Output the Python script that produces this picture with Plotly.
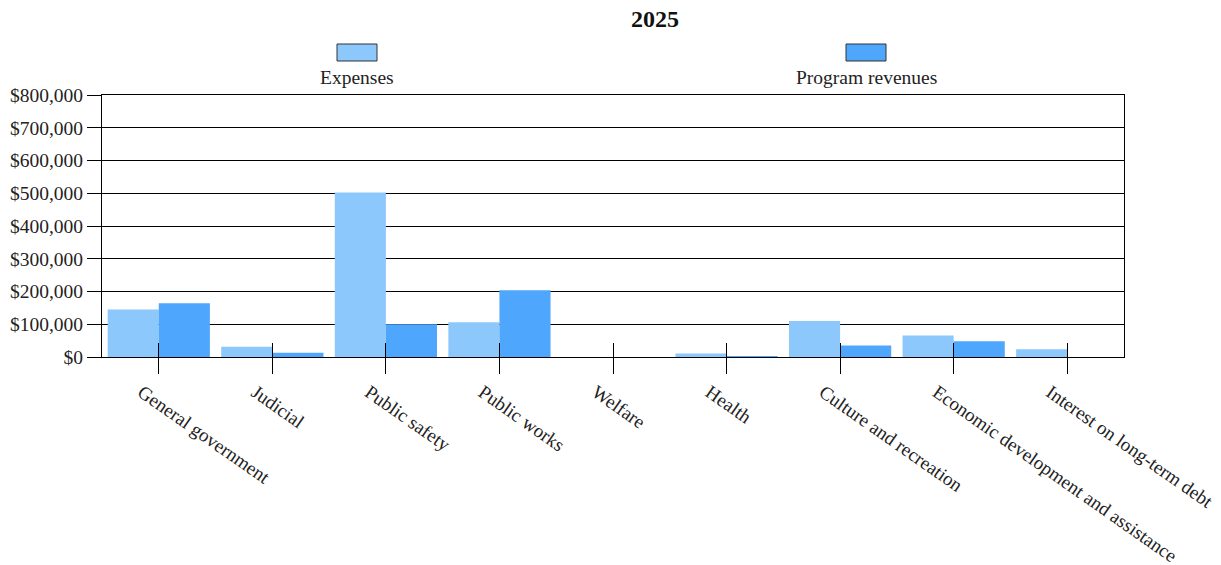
import plotly.graph_objects as go

categories = ["General government", "Judicial", "Public safety", "Public works", "Welfare",
              "Health", "Culture and recreation", "Economic development and assistance",
              "Interest on long-term debt"]
expenses = [145000, 31000, 502000, 106000, 0, 11000, 110000, 66000, 24000]
program_revenues = [164000, 13000, 100000, 204000, 0, 1000, 35000, 48000, 0]
series_names = ["Expenses", "Program revenues"]
series_colors = ["#8dc8fc", "#4ea6fd"]
y_ticks = [0, 100000, 200000, 300000, 400000, 500000, 600000, 700000, 800000]
y_tick_labels = ["$" + format(v, ",") for v in y_ticks]
title_text = "2025"

FONT = "Liberation Serif, Times New Roman, serif"

fig = go.Figure()
fig.add_trace(go.Bar(x=categories, y=expenses, name=series_names[0],
                     marker=dict(color=series_colors[0], line=dict(width=0)), showlegend=False))
fig.add_trace(go.Bar(x=categories, y=program_revenues, name=series_names[1],
                     marker=dict(color=series_colors[1], line=dict(width=0)), showlegend=False))
# invisible trace to drive the overlay axis (inside ticks)
fig.add_trace(go.Scatter(x=categories, y=[0] * len(categories), xaxis="x2", mode="markers",
                         marker=dict(opacity=0), showlegend=False, hoverinfo="skip"))

fig.update_layout(
    width=1221, height=565,
    margin=dict(l=102, r=97, t=95, b=208, autoexpand=False),
    paper_bgcolor="white", plot_bgcolor="white",
    barmode="group", bargap=0.1, bargroupgap=0,
    font=dict(family=FONT, size=19, color="#222"),
    title=dict(text="<b>" + title_text + "</b>", x=655 / 1221, xref="container", xanchor="center",
               y=1 - 19 / 565, yref="container", yanchor="middle",
               font=dict(family=FONT, size=24, color="#111")),
    xaxis=dict(type="category", showgrid=False, showline=True, linecolor="black", linewidth=1,
               mirror=True, ticks="outside", ticklen=16, tickcolor="black", tickwidth=1,
               tickangle=35, automargin=False, ticklabelshift=-17, ticklabelstandoff=0,
               tickfont=dict(family=FONT, size=19, color="#222")),
    xaxis2=dict(type="category", overlaying="x", matches="x", anchor="y", side="bottom",
                showgrid=False, showline=False, ticks="inside", ticklen=14, tickcolor="black",
                tickwidth=1, showticklabels=False, automargin=False),
    yaxis=dict(range=[0, 800000], tickvals=y_ticks, ticktext=y_tick_labels,
               showgrid=True, gridcolor="black", gridwidth=1, zeroline=False,
               showline=True, linecolor="black", linewidth=1, mirror=True,
               ticks="outside", ticklen=14, tickcolor="black", automargin=False,
               ticklabelstandoff=0,
               tickfont=dict(family=FONT, size=19.5, color="#222")),
)

# custom legend: swatch above label
legend_centers = [(357 - 102) / 1022, (866 - 102) / 1022]
half_w = 20 / 1022
for name, color, cx in zip(series_names, series_colors, legend_centers):
    fig.add_shape(type="rect", xref="paper", yref="paper",
                  x0=cx - half_w, x1=cx + half_w, y0=(357 - 61) / 262, y1=(357 - 44) / 262,
                  fillcolor=color, line=dict(color="#333", width=1))
    fig.add_annotation(text=name, xref="paper", yref="paper", x=cx, y=(357 - 77) / 262,
                       xanchor="center", yanchor="middle", showarrow=False,
                       font=dict(family=FONT, size=19.5, color="#222"))

fig.write_html("out.html")
